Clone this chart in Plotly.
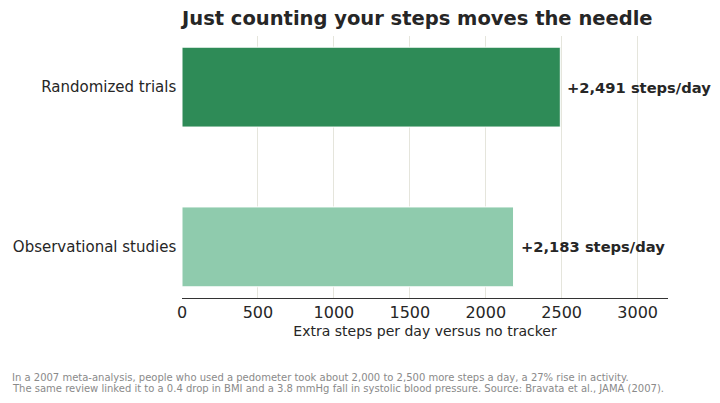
import plotly.graph_objects as go

# data
categories = ["Observational studies", "Randomized trials"]
extra_steps = [2183, 2491]
bar_colors = ["#8fcbad", "#2e8b57"]
x_ticks = [0, 500, 1000, 1500, 2000, 2500, 3000]

title = "Just counting your steps moves the needle"
x_title = "Extra steps per day versus no tracker"
footnote_lines = [
    "In a 2007 meta-analysis, people who used a pedometer took about 2,000 to 2,500 more steps a day, a 27% rise in activity.",
    "The same review linked it to a 0.4 drop in BMI and a 3.8 mmHg fall in systolic blood pressure. Source: Bravata et al., JAMA (2007).",
]

FONT = "DejaVu Sans"
INK = "#262626"
# the html page body adds an 8px margin, so the figure is drawn 8px smaller
W, H = 712, 395
L, R, T, B = 174, 52, 28, 105
PW, PH = W - L - R, H - T - B

fig = go.Figure()
fig.add_trace(go.Bar(
    x=extra_steps, y=categories, orientation="h",
    marker=dict(color=bar_colors, line=dict(color="white", width=1)),
    width=0.5, hoverinfo="skip", cliponaxis=False,
))

# value labels right of each bar
for cat, val in zip(categories, extra_steps):
    fig.add_annotation(x=val, y=cat, xref="x", yref="y",
                       text="<b>+{:,} steps/day</b>".format(val),
                       showarrow=False, xanchor="left", xshift=5,
                       font=dict(family=FONT, size=14.7, color=INK))

# footnote, two lines placed in paper units relative to the plot area
for i, line in enumerate(footnote_lines):
    fig.add_annotation(x=(2 - L) / PW, y=(H - B - (369 + 11 * i)) / PH,
                       xref="paper", yref="paper", text=line, showarrow=False,
                       xanchor="left", yanchor="middle", align="left",
                       font=dict(family=FONT, size=10, color="#8a8a8a"))

fig.update_layout(
    width=W, height=H,
    margin=dict(l=L, r=R, t=T, b=B, autoexpand=False),
    paper_bgcolor="white", plot_bgcolor="white",
    font=dict(family=FONT, color=INK),
    showlegend=False,
    title=dict(text="<b>" + title + "</b>", x=L / W, xanchor="left",
               y=1 - 10.5 / H, yanchor="middle",
               font=dict(family=FONT, size=19.5, color=INK)),
    xaxis=dict(range=[0, 3200], tickvals=x_ticks, showgrid=True,
               gridcolor="#e5e5dc", gridwidth=1, zeroline=False,
               showline=True, linecolor="#333333", linewidth=1.2, ticks="",
               tickfont=dict(size=16, color=INK),
               title=dict(text=x_title, font=dict(size=14, color=INK), standoff=4)),
    yaxis=dict(range=[-0.32, 1.32], showgrid=False, zeroline=False,
               showline=False, ticks="", ticksuffix=" ",
               tickfont=dict(size=15, color=INK)),
)

fig.write_html("out.html")
